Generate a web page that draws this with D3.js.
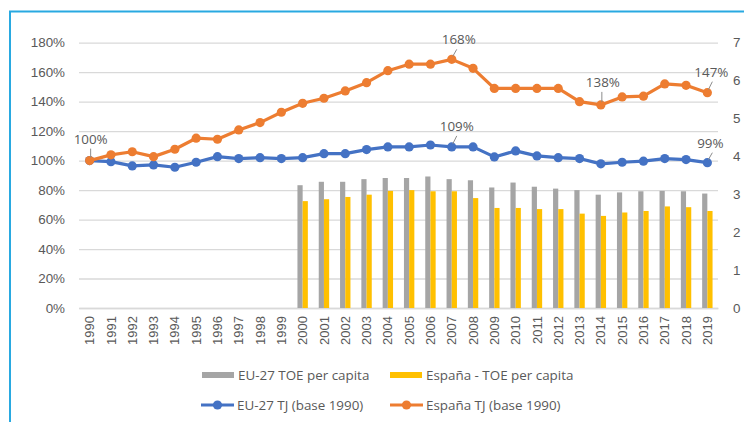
<!DOCTYPE html>
<html>
<head>
<meta charset="utf-8">
<script src="https://cdn.jsdelivr.net/npm/d3@7"></script>
<style>
	body { margin: 0; background: #fff; }
	svg { display: block; font-family: 'Open Sans', sans-serif; }
</style>
</head>
<body>
<div id="chart"></div>
<script>
// Chart data
let years = d3.range(1990, 2020).map(String);

let euToe = [null, null, null, null, null, null, null, null, null, null,
	3.24, 3.33, 3.33, 3.40, 3.43, 3.43, 3.47, 3.40, 3.37, 3.18,
	3.31, 3.20, 3.15, 3.11, 2.99, 3.05, 3.08, 3.09, 3.08, 3.02];
let esToe = [null, null, null, null, null, null, null, null, null, null,
	2.82, 2.87, 2.93, 2.99, 3.09, 3.11, 3.08, 3.08, 2.90, 2.64,
	2.64, 2.61, 2.61, 2.49, 2.43, 2.52, 2.56, 2.68, 2.66, 2.56];

let euTj = [1.00, 0.993, 0.964, 0.971, 0.955, 0.989, 1.027, 1.014, 1.02, 1.014,
	1.02, 1.047, 1.047, 1.075, 1.093, 1.093, 1.106, 1.093, 1.093, 1.025,
	1.066, 1.032, 1.02, 1.014, 0.978, 0.989, 0.996, 1.014, 1.007, 0.986];
let esTj = [1.00, 1.039, 1.06, 1.027, 1.077, 1.152, 1.145, 1.208, 1.258, 1.328,
	1.389, 1.423, 1.473, 1.529, 1.61, 1.654, 1.654, 1.687, 1.626, 1.49,
	1.49, 1.49, 1.49, 1.40, 1.378, 1.432, 1.437, 1.52, 1.511, 1.461];

let leftTicks = [0, 0.2, 0.4, 0.6, 0.8, 1.0, 1.2, 1.4, 1.6, 1.8];
let rightTicks = [0, 1, 2, 3, 4, 5, 6, 7];

// labelled points: [series, year, text]
let pointLabels = [
	['es', '1990', '100%'],
	['es', '2007', '168%'],
	['eu', '2007', '109%'],
	['es', '2014', '138%'],
	['es', '2019', '147%'],
	['eu', '2019', '99%']
];

let width = 744;
let height = 422;
let textColor = '#595959';
let gridColor = '#d9d9d9';
let fontSize = 13.4;
let colors = { euToe: '#a5a5a5', esToe: '#ffc000', eu: '#4472c4', es: '#ed7d31' };

let svg = d3.select('#chart')
	.append('svg')
	.attr('width', width)
	.attr('height', height);

svg.append('rect')
	.attr('width', width)
	.attr('height', height)
	.attr('fill', '#fff');

// frame
svg.append('path')
	.attr('d', 'M10,' + height + ' L10,11.5 L' + width + ',11.5')
	.attr('fill', 'none')
	.attr('stroke', '#29a9e1')
	.attr('stroke-width', 2);

let plotLeft = 79, plotRight = 718, plotTop = 42.7, plotBottom = 308;

let x = d3.scaleBand().domain(years).range([plotLeft, plotRight]);
let yL = d3.scaleLinear().domain([0, 1.8]).range([plotBottom, plotTop]);
let yR = d3.scaleLinear().domain([0, 7]).range([plotBottom, plotTop]);

// left axis + gridlines
let gLeft = svg.append('g')
	.attr('transform', 'translate(' + plotLeft + ',0)')
	.call(d3.axisLeft(yL)
		.tickValues(leftTicks)
		.tickSize(-(plotRight - plotLeft))
		.tickPadding(14)
		.tickFormat(d3.format('.0%')));
gLeft.select('.domain').remove();
gLeft.selectAll('line').attr('stroke', gridColor).attr('stroke-width', 1.3);
gLeft.selectAll('text').attr('fill', textColor).attr('font-size', fontSize);

// right axis
let gRight = svg.append('g')
	.attr('transform', 'translate(' + plotRight + ',0)')
	.call(d3.axisRight(yR)
		.tickValues(rightTicks)
		.tickSize(0)
		.tickPadding(15)
		.tickFormat(d3.format('d')));
gRight.select('.domain').remove();
gRight.selectAll('text').attr('fill', textColor).attr('font-size', fontSize);

// bottom axis
let gBottom = svg.append('g')
	.attr('transform', 'translate(0,' + plotBottom + ')')
	.call(d3.axisBottom(x).tickSize(0));
gBottom.select('.domain').attr('stroke', gridColor).attr('stroke-width', 1.3);
gBottom.selectAll('text')
	.attr('transform', 'rotate(-90)')
	.attr('x', -8)
	.attr('y', 0)
	.attr('dy', '0.35em')
	.attr('text-anchor', 'end')
	.attr('fill', textColor)
	.attr('font-size', 13);

// bars
let barW = 5.2;
let cx = function(i){ return x(years[i]) + x.bandwidth() / 2; };

let barData = [];
years.forEach(function(yr, i){
	if(euToe[i] !== null) barData.push({ i: i, v: euToe[i], off: -barW, c: colors.euToe });
	if(esToe[i] !== null) barData.push({ i: i, v: esToe[i], off: 0, c: colors.esToe });
});

svg.append('g').attr('id', 'bars').selectAll('rect')
	.data(barData)
	.enter()
	.append('rect')
	.attr('x', function(d){ return cx(d.i) + d.off; })
	.attr('y', function(d){ return yR(d.v); })
	.attr('width', barW)
	.attr('height', function(d){ return plotBottom - yR(d.v); })
	.attr('fill', function(d){ return d.c; });

// lines
let lineBuild = d3.line()
	.x(function(d, i){ return cx(i); })
	.y(function(d){ return yL(d); });

let series = { eu: euTj, es: esTj };
['eu', 'es'].forEach(function(key){
	let g = svg.append('g').attr('id', 'line-' + key);
	g.append('path')
		.attr('d', lineBuild(series[key]))
		.attr('fill', 'none')
		.attr('stroke', colors[key])
		.attr('stroke-width', 3.2)
		.attr('stroke-linejoin', 'round');
	g.selectAll('circle')
		.data(series[key])
		.enter()
		.append('circle')
		.attr('cx', function(d, i){ return cx(i); })
		.attr('cy', function(d){ return yL(d); })
		.attr('r', 4.6)
		.attr('fill', colors[key]);
});

// data labels with leader lines (offset of text centre/baseline from point)
let labels = svg.append('g').attr('id', 'labels');
let labelOffsets = {
	'es1990': [1, -17], 'es2007': [7, -15], 'eu2007': [5, -16],
	'es2014': [2, -18], 'es2019': [4, -16], 'eu2019': [3, -15]
};
pointLabels.forEach(function(p){
	let i = years.indexOf(p[1]);
	let px = cx(i), py = yL(series[p[0]][i]);
	let off = labelOffsets[p[0] + p[1]];
	labels.append('line')
		.attr('x1', px + 1)
		.attr('y1', py - 3)
		.attr('x2', px + (off[0] > 2 ? 5 : 1))
		.attr('y2', py + off[1] + 5)
		.attr('stroke', '#8c8c8c')
		.attr('stroke-width', 1);
	labels.append('text')
		.text(p[2])
		.attr('x', px + off[0])
		.attr('y', py + off[1])
		.attr('text-anchor', 'middle')
		.attr('fill', textColor)
		.attr('font-size', fontSize);
});

// legend
let legend = svg.append('g').attr('id', 'legend');
let legendItems = [
	{ name: 'EU-27 TOE per capita', type: 'bar', c: colors.euToe, x: 202, y: 375 },
	{ name: 'España - TOE per capita', type: 'bar', c: colors.esToe, x: 390, y: 375 },
	{ name: 'EU-27 TJ (base 1990)', type: 'line', c: colors.eu, x: 201, y: 405 },
	{ name: 'España TJ (base 1990)', type: 'line', c: colors.es, x: 390, y: 405 }
];
legendItems.forEach(function(d){
	if(d.type === 'bar'){
		legend.append('rect')
			.attr('x', d.x)
			.attr('y', d.y - 3)
			.attr('width', 32)
			.attr('height', 6)
			.attr('fill', d.c);
	}else{
		legend.append('line')
			.attr('x1', d.x)
			.attr('x2', d.x + 33)
			.attr('y1', d.y)
			.attr('y2', d.y)
			.attr('stroke', d.c)
			.attr('stroke-width', 3.2);
		legend.append('circle')
			.attr('cx', d.x + 16.5)
			.attr('cy', d.y)
			.attr('r', 4.6)
			.attr('fill', d.c);
	}
	legend.append('text')
		.text(d.name)
		.attr('x', d.x + 36)
		.attr('y', d.y)
		.attr('dy', '0.35em')
		.attr('fill', textColor)
		.attr('font-size', fontSize);
});
</script>
</body>
</html>
